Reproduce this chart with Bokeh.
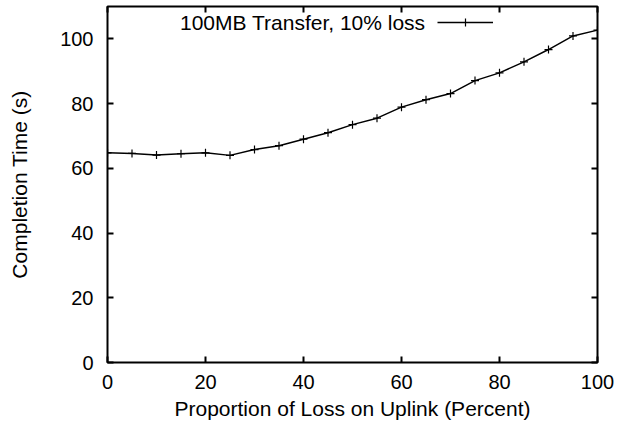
from bokeh.plotting import figure
from bokeh.models import (Range1d, FixedTicker, LinearAxis, Legend, LegendItem,
                          Label, ColumnDataSource, CustomLabelingPolicy)
from bokeh.embed import file_html
from bokeh.resources import INLINE

# Completion time vs. share of loss placed on the uplink
loss_uplink_pct = [0, 5, 10, 15, 20, 25, 30, 35, 40, 45, 50,
                   55, 60, 65, 70, 75, 80, 85, 90, 95, 100]
completion_s = [64.8, 64.6, 64.1, 64.5, 64.8, 64.0, 65.8, 67.0, 69.0, 71.0, 73.5,
                75.5, 78.9, 81.2, 83.1, 87.1, 89.5, 92.9, 96.7, 100.9, 102.7]
x_ticks = [0, 20, 40, 60, 80, 100]
y_ticks = [0, 20, 40, 60, 80, 100]
series_label = "100MB Transfer, 10% loss"

FONT = "Liberation Sans"
TICK_FS = "20px"
LABEL_FS = "21px"

src = ColumnDataSource(dict(x=loss_uplink_pct, y=completion_s))

p = figure(width=629, height=430, output_backend="svg", toolbar_location=None,
           x_range=Range1d(0, 100), y_range=Range1d(0, 110),
           min_border_left=107, min_border_right=32,
           min_border_top=6, min_border_bottom=68)
p.grid.visible = False
p.outline_line_color = "black"
p.outline_line_width = 2
p.background_fill_color = "white"
p.border_fill_color = "white"

line = p.line("x", "y", source=src, line_color="black", line_width=1.5)
pts = p.scatter("x", "y", source=src, marker="cross", size=8,
                line_color="black", line_width=1.2)

# mirrored axes carry ticks only
no_labels = CustomLabelingPolicy(code="""
    const ids = [...indices]
    for (const i of ids) indices.unset(i)
    return indices
""")

def style_axis(ax, ticks, show_labels):
    ax.ticker = FixedTicker(ticks=ticks)
    ax.axis_line_color = None
    ax.major_tick_in = 6
    ax.major_tick_out = 0
    ax.major_tick_line_width = 2
    ax.major_tick_line_color = "black"
    ax.minor_tick_line_color = None
    ax.major_label_text_font = FONT
    ax.major_label_text_color = "black"
    if show_labels:
        ax.major_label_text_font_size = TICK_FS
    else:
        ax.major_label_policy = no_labels
        ax.major_label_text_font_size = "1px"
        ax.major_label_standoff = 0

xa = p.xaxis[0]
style_axis(xa, x_ticks, True)
xa.axis_label = "Proportion of Loss on Uplink (Percent)"
xa.major_label_standoff = 12
xa.axis_label_standoff = 5

ya = p.yaxis[0]
style_axis(ya, y_ticks, True)
ya.axis_label = "Completion Time (s)"
ya.major_label_standoff = 14
ya.axis_label_standoff = 26

for ax in (xa, ya):
    ax.axis_label_text_font = FONT
    ax.axis_label_text_font_size = LABEL_FS
    ax.axis_label_text_font_style = "normal"
    ax.axis_label_text_color = "black"

top = LinearAxis()
style_axis(top, x_ticks, False)
p.add_layout(top, "above")
right = LinearAxis()
style_axis(right, y_ticks, False)
p.add_layout(right, "right")

# key: line sample from the legend, its text as a right-aligned label before it
legend = Legend(items=[LegendItem(label=series_label, renderers=[line, pts])],
                location=(330, 330), orientation="vertical",
                label_text_font_size="0px", label_width=0, label_standoff=0,
                glyph_width=56, glyph_height=20, padding=0, margin=0, spacing=0,
                border_line_color=None, background_fill_alpha=0)
p.add_layout(legend)

p.add_layout(Label(x=318, y=340, x_units="screen", y_units="screen",
                   text=series_label, text_align="right", text_baseline="middle",
                   text_font=FONT, text_font_size=LABEL_FS, text_color="black"))

open("out.html", "w").write(file_html(p, INLINE))
